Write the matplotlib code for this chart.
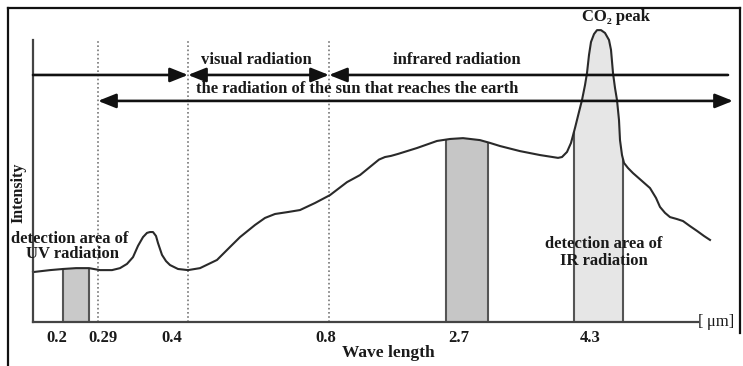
import numpy as np
import matplotlib
matplotlib.use("Agg")
import matplotlib.pyplot as plt
from matplotlib.lines import Line2D

# ---- data (x = position along the wavelength axis, y = intensity, arbitrary units) ----
curve_x = [0, 17, 30, 43, 56, 67, 79, 87, 94, 100, 105, 110, 114, 117, 120, 123, 125, 129,
           133, 137, 145, 155, 167, 184, 197, 207, 222, 232, 242, 255, 267, 282, 297, 314,
           327, 337, 346, 352, 358, 365, 384, 404, 417, 430, 447, 457, 467, 487, 507, 525,
           529, 534, 538, 542, 546, 549, 552, 554, 556, 558, 561, 564, 568, 572, 576, 578,
           580, 582, 584, 586, 587, 589, 591, 595, 600, 609, 617, 623, 627, 632, 637, 644,
           650, 657, 664, 671, 677]
curve_y = [17.7, 18.4, 18.8, 19.1, 19.1, 18.4, 18.4, 19.1, 20.6, 23.0, 27.0, 30.1, 31.6, 31.9,
           31.9, 30.5, 28.0, 23.8, 21.6, 20.2, 18.8, 18.4, 19.1, 22.0, 26.6, 30.1, 34.4, 36.9,
           38.3, 39.0, 39.7, 42.2, 45.0, 49.6, 52.1, 55.0, 57.6, 58.5, 58.9, 59.6, 61.7, 64.2,
           64.9, 65.2, 64.5, 63.5, 62.4, 60.6, 59.2, 58.2, 58.5, 60.3, 63.5, 68.8, 74.5, 78.7,
           84.0, 88.3, 94.7, 99.3, 102.1, 103.5, 103.5, 102.5, 100.0, 96.5, 88.3, 83.0, 78.7,
           71.6, 64.5, 59.2, 56.4, 54.6, 52.8, 50.0, 47.5, 44.0, 40.8, 38.7, 37.2, 36.5, 35.8,
           34.0, 32.3, 30.5, 29.1]

tick_labels = ["0.2", "0.29", "0.4", "0.8", "2.7", "4.3"]
tick_pos = [24, 70, 139, 293, 426, 557]

boundary_pos = [65, 155, 296]          # 0.29, 0.4, 0.8 µm dotted lines
bands = [(30, 56), (413, 455), (541, 590)]   # UV, 2.7 µm, 4.3 µm detection bands
band_colors = ["#c9c9c9", "#c6c6c6", "#e6e6e6"]

axis_top = 100
axis_right = 665
arrow_top_y = 87.6
arrow_sun_y = 78.4
arrow_right = 695
arrow_sun_range = (65, 700)

# ---- figure ----
W, H = 743, 366
fig = plt.figure(figsize=(W / 100, H / 100), dpi=100)
fig.patch.set_facecolor("white")
ax = fig.add_axes([0, 0, 1, 1])
ax.set_xlim(-33, 710)
ax.set_ylim(-44 / 2.82, 322 / 2.82)
ax.axis("off")

serif = ["Liberation Serif", "DejaVu Serif"]
txt = dict(family=serif, fontweight="bold", fontsize=12, color="#1a1a1a")

# bands
for (a, b), c in zip(bands, band_colors):
    xs = np.linspace(a, b, 100)
    ys = np.interp(xs, curve_x, curve_y)
    ax.fill_between(xs, 0, ys, color=c, lw=0, zorder=1)
    ax.vlines([a, b], 0, [ys[0], ys[-1]], color="#555555", lw=1.5, zorder=2)

# dotted boundaries
ax.vlines(boundary_pos, 0, axis_top, color="#777777", lw=1.2, linestyles=(0, (1, 1.5)), zorder=2)

# curve
ax.plot(curve_x, curve_y, color="#2a2a2a", lw=1.5, zorder=3, solid_joinstyle="round")

# axes lines
ax.plot([0, 0], [0, axis_top], color="#444444", lw=1.6, zorder=3)
ax.plot([0, axis_right], [0, 0], color="#444444", lw=1.6, zorder=3)

# arrows
def arrow(x0, x1, y, style):
    ax.annotate("", xy=(x1, y), xytext=(x0, y),
                arrowprops=dict(arrowstyle=style + ",head_length=0.4,head_width=0.16",
                                mutation_scale=27, color="#111111", lw=1.9,
                                shrinkA=0, shrinkB=0), zorder=4)

arrow(0, boundary_pos[1], arrow_top_y, "-|>")
arrow(boundary_pos[1], boundary_pos[2], arrow_top_y, "<|-|>")
arrow(boundary_pos[2], arrow_right, arrow_top_y, "<|-")
arrow(arrow_sun_range[0], arrow_sun_range[1], arrow_sun_y, "<|-|>")

# texts
ax.text(223, 92.8, "visual radiation", ha="center", va="center", **txt)
ax.text(424, 92.8, "infrared radiation", ha="center", va="center", **txt)
ax.text(324, 82.6, "the radiation of the sun that reaches the earth", ha="center", va="center", **txt)
ax.text(583, 108.2, "CO\u2082 peak", ha="center", va="center", **txt)
ax.text(-15, 45.7, "Intensity", ha="center", va="center", rotation=90,
        **{**txt, "fontsize": 11.5})
ax.text(37, 29.6, "detection area of", ha="center", va="center", **txt)
ax.text(39, 24.2, "UV radiation", ha="center", va="center", **txt)
ax.text(571, 27.5, "detection area of", ha="center", va="center", **txt)
ax.text(571, 21.6, "IR radiation", ha="center", va="center", **txt)
for p, l in zip(tick_pos, tick_labels):
    ax.text(p, -5.7, l, ha="center", va="center", **txt)
ax.text(355, -11, "Wave length", ha="center", va="center", **{**txt, "fontsize": 12.5})
ax.text(axis_right, 0, "[\u2009\u03bcm]", ha="left", va="center", family=serif, fontsize=12,
        color="#1a1a1a")

# outer frame
fx = lambda px: px / W
fy = lambda py: 1 - py / H
for xs_, ys_ in [([8, 8], [8, H]), ([8, 740], [8, 8]), ([740, 740], [8, 333])]:
    fig.add_artist(Line2D([fx(v) for v in xs_], [fy(v) for v in ys_], color="#111111", lw=1.6))

fig.savefig("out.png", dpi=100)
